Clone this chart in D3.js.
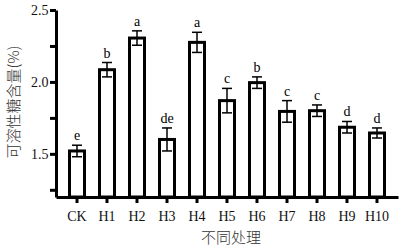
<!DOCTYPE html>
<html><head><meta charset="utf-8">
<script src="https://cdn.jsdelivr.net/npm/d3@7"></script>
<style>body{margin:0;background:#fff}svg{display:block}</style>
</head><body><svg id="c" width="401" height="247"></svg>
<script>
const categories = ["CK","H1","H2","H3","H4","H5","H6","H7","H8","H9","H10"];
const values = [1.52,2.085,2.305,1.60,2.275,1.87,1.995,1.795,1.80,1.685,1.645];
const errors = [0.04,0.05,0.05,0.08,0.07,0.085,0.04,0.075,0.04,0.04,0.035];
const letters = ["e","b","a","de","a","c","b","c","c","d","d"];
const yTicks = [1.5,2.0,2.5];
const yMinor = [1.25,1.75,2.25];

const svg = d3.select("#c");
const x = d3.scaleBand().domain(categories).range([56,398]).paddingInner(0.4).paddingOuter(0.4);
const y = d3.scaleLinear().domain([1.2,2.5]).range([197,10]);
const serif = "'Liberation Serif','Times New Roman',serif";

// bars
svg.selectAll("rect.bar").data(categories).enter().append("rect")
  .attr("x", d => x(d)+1.5).attr("width", x.bandwidth()-3)
  .attr("y", (d,i) => y(values[i])).attr("height", (d,i) => y(1.2)-y(values[i]))
  .attr("fill","#fff").attr("stroke","#000").attr("stroke-width",3);

// error bars
const eg = svg.selectAll("g.err").data(categories).enter().append("g")
  .attr("transform", d => `translate(${x(d)+x.bandwidth()/2},0)`);
eg.append("line").attr("y1",(d,i)=>y(values[i]+errors[i])).attr("y2",(d,i)=>y(values[i]-errors[i]))
  .attr("stroke","#000").attr("stroke-width",1.5);
eg.append("line").attr("x1",-5).attr("x2",5).attr("y1",(d,i)=>y(values[i]+errors[i])).attr("y2",(d,i)=>y(values[i]+errors[i]))
  .attr("stroke","#000").attr("stroke-width",1.5);
eg.append("line").attr("x1",-5).attr("x2",5).attr("y1",(d,i)=>y(values[i]-errors[i])).attr("y2",(d,i)=>y(values[i]-errors[i]))
  .attr("stroke","#000").attr("stroke-width",1.5);
eg.append("text").attr("y",(d,i)=>y(values[i]+errors[i])-5).attr("text-anchor","middle")
  .attr("font-family",serif).attr("font-size",14).attr("fill","#000").text((d,i)=>letters[i]);

// axes
const yAxis = svg.append("g").attr("transform","translate(56,0)")
  .call(d3.axisLeft(y).tickValues(yTicks).tickFormat(d3.format(".1f")).tickSize(6).tickSizeOuter(0));
svg.append("g").attr("transform","translate(56,0)")
  .call(d3.axisLeft(y).tickValues(yMinor).tickFormat("").tickSize(6).tickSizeOuter(0))
  .select(".domain").remove();
const xAxis = svg.append("g").attr("transform","translate(0,197)")
  .call(d3.axisBottom(x).tickSize(6).tickSizeOuter(0));
svg.selectAll(".domain").attr("stroke-width",3).attr("stroke","#000");
svg.selectAll(".tick line").attr("stroke-width",3).attr("stroke","#000");
svg.selectAll(".tick text").attr("font-family",serif).attr("font-size",14).attr("fill","#111");
xAxis.selectAll(".tick text").attr("dy","1.05em");
yAxis.selectAll(".tick text").attr("dx","0.1em");

// titles
svg.append("text").attr("x",231).attr("y",243).attr("text-anchor","middle")
  .attr("font-family","'Noto Sans CJK SC',sans-serif").attr("font-size",15).attr("fill","#333").attr("font-weight",300)
  .text("不同处理");
svg.append("text").attr("transform","translate(19,102) rotate(-90)").attr("text-anchor","middle")
  .attr("font-family","'Noto Sans CJK SC',sans-serif").attr("font-size",15).attr("fill","#333").attr("font-weight",300)
  .text("可溶性糖含量(%)");
</script></body></html>
